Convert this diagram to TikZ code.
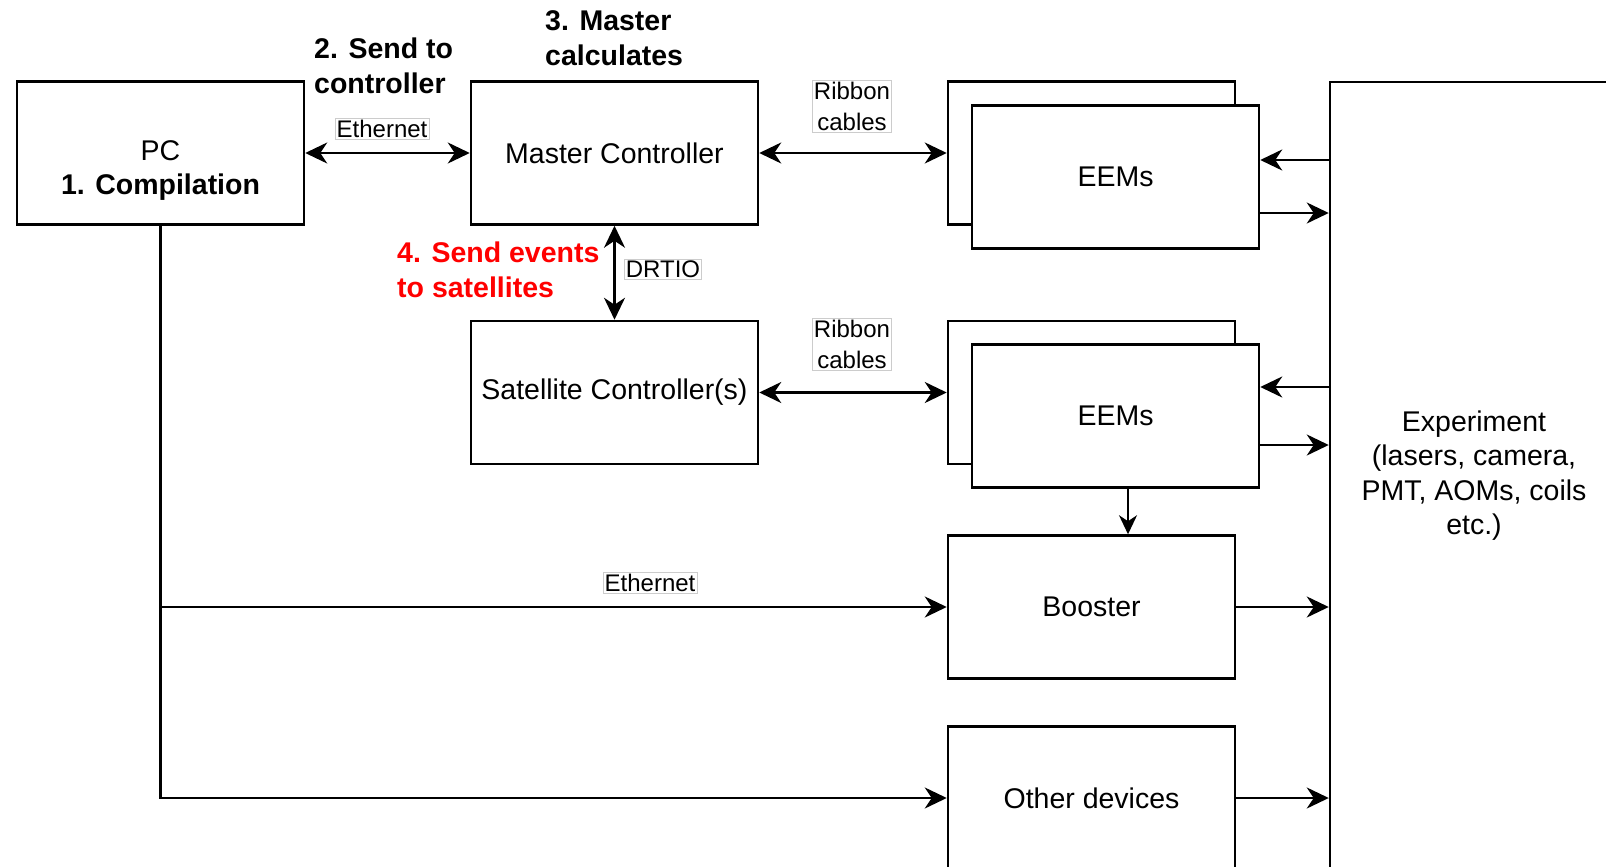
\documentclass[tikz,border=0pt]{standalone}
\usepackage{fontspec}
\setmainfont{Liberation Sans}
\usetikzlibrary{arrows.meta,calc}
\begin{document}
\begin{tikzpicture}[x=1pt,y=-1pt,
  box/.style={draw, line width=2.5pt, minimum width=287pt, minimum height=143pt, inner sep=0pt, align=center, fill=white, font=\fontsize{28.5}{34.5}\selectfont},
  lbl/.style={draw=black!20, line width=0.6pt, fill=white, inner sep=1.5pt, align=center, font=\fontsize{24}{31}\selectfont},
  note/.style={font=\bfseries\fontsize{28.5}{35}\selectfont, align=left, anchor=west, inner sep=0pt},
  arr/.style={line width=2.5pt, -{Stealth[length=22pt,width=21pt,inset=7pt]}},
  biarr/.style={line width=2.5pt, {Stealth[length=22pt,width=21pt,inset=7pt]}-{Stealth[length=22pt,width=21pt,inset=7pt]}},
]
\useasboundingbox (0,0) rectangle (1606,867);
\clip (0,0) rectangle (1606,867);
\fill[white] (0,0) rectangle (1606,867);

% boxes
\node[box] (pc) at (160.5,153) {};
\node[font=\fontsize{28.5}{34.5}\selectfont, align=center, inner sep=0pt] (pct) at (160.5,170.5) {PC\\\textbf{1. Compilation}};
\node[box] (mc) at (614.5,153) {Master Controller};
\node[box] (sat) at (614.5,392.5) {Satellite Controller(s)};
\node[box] (eema) at (1091.5,153) {};
\node[box] (eemaf) at (1115.5,177) {EEMs};
\node[box] (eemb) at (1091.5,392.5) {};
\node[box] (eembf) at (1115.5,416) {EEMs};
\node[box] (boost) at (1091.5,607) {Booster};
\node[box] (other) at (1091.5,798) {Other devices};
\node[box, minimum width=288pt, minimum height=787pt] (exp) at (1474,475.5) {Experiment\\(lasers, camera,\\PMT, AOMs, coils\\etc.)};

% connectors
\draw[biarr] (pc) -- (mc);
\draw[biarr] (mc) -- (eema);
\draw[biarr] (mc) -- (sat);
\draw[biarr] (sat) -- (eemb);

\coordinate (a1) at ($(eemaf.east)+(0,-17)$);
\coordinate (a2) at ($(eemaf.east)+(0,36)$);
\coordinate (b1) at ($(eembf.east)+(0,-29)$);
\coordinate (b2) at ($(eembf.east)+(0,29)$);
\draw[arr] (exp.west |- a1) -- (a1);
\draw[arr] (a2) -- (exp.west |- a2);
\draw[arr] (exp.west |- b1) -- (b1);
\draw[arr] (b2) -- (exp.west |- b2);
\draw[arr] (boost) -- (exp.west |- boost);
\draw[arr] (other) -- (exp.west |- other);

\coordinate (c1) at ($(eembf.south)+(12.5,0)$);
\draw[line width=2pt, -{Stealth[length=19pt,width=18pt,inset=6pt]}] (c1) -- (c1 |- boost.north);

\draw[arr] (pc.south) |- (other.west);
\draw[arr] (pc.south |- boost.west) -- (boost.west);

% connector labels
\node[lbl] (eth1) at (382,129) {Ethernet};
\node[lbl] (rib1) at (852,106) {Ribbon\\cables};
\node[lbl] (drtio) at (663,269) {DRTIO};
\node[lbl] (rib2) at (852,344) {Ribbon\\cables};
\node[lbl] (eth2) at (650,583) {Ethernet};

% step notes
\node[note] (s2) at (314,65.5) {2. Send to\\controller};
\node[note] (s3) at (545,38) {3. Master\\calculates};
\node[note, text=red] (s4) at (397,269.5) {4. Send events\\to satellites};
\end{tikzpicture}
\end{document}
